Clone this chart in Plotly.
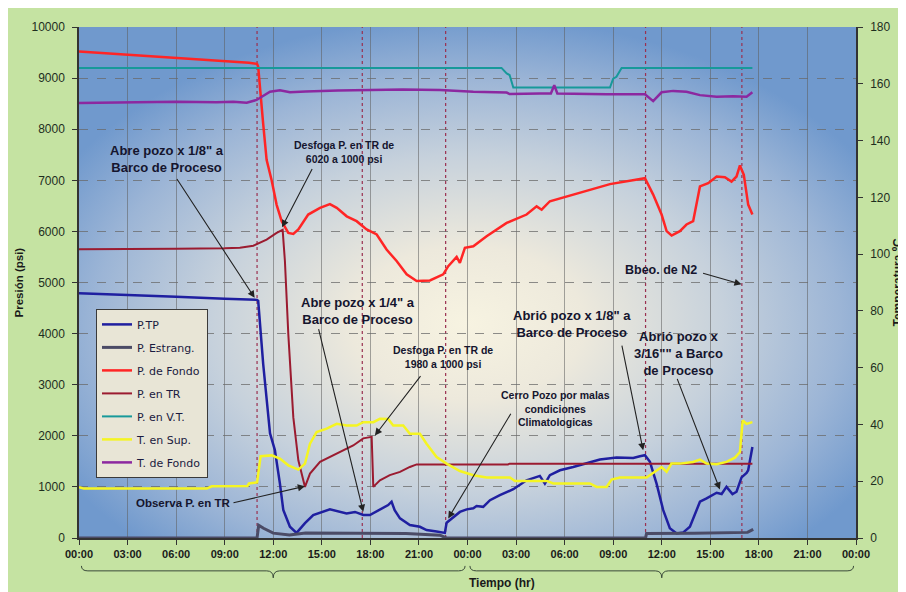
import base64
import plotly.graph_objects as go

# ---------------- data (hours from 00:00 of day 1) ----------------
tick_hours = list(range(0, 49, 3))
tick_labels = ["00:00", "03:00", "06:00", "09:00", "12:00", "15:00", "18:00", "21:00",
               "00:00", "03:00", "06:00", "09:00", "12:00", "15:00", "18:00", "21:00", "00:00"]

tp_h = [0, 3, 6, 9, 11.0, 11.07, 11.38, 11.8, 12.1, 12.41, 12.62, 13.03, 13.44, 13.96, 14.47,
        15.5, 15.91, 16.53, 17.05, 17.56, 17.97, 18.59, 19.1, 19.31, 19.5, 19.83, 20.44, 21.06,
        21.47, 22.09, 22.6, 22.71, 23.53, 23.95, 24.36, 24.56, 24.97, 25.39, 26.0, 26.83, 27.24,
        27.65, 28.47, 28.78, 29.09, 29.71, 30.53, 31.36, 32.18, 33.21, 34.24, 34.65, 34.96, 35.27,
        35.68, 36.09, 36.5, 36.92, 37.33, 37.74, 38.36, 38.77, 39.39, 39.7, 40.0, 40.37, 40.62,
        40.93, 41.24, 41.34, 41.6]
tp_v = [4790, 4760, 4720, 4680, 4660, 4640, 3400, 2050, 1720, 1070, 550, 220, 100, 290, 450,
        560, 530, 480, 510, 450, 450, 565, 645, 710, 545, 385, 255, 220,
        155, 125, 100, 300, 510, 560, 580, 625, 610, 740, 840, 955, 1035,
        1130, 1215, 1065, 1230, 1325, 1390, 1470, 1535, 1575, 1565, 1600, 1620, 1490,
        1065, 545, 190, 90, 110, 220, 710, 775, 885, 860, 1000, 860, 905,
        1185, 1275, 1325, 1780]

est_h = [0, 11.0, 11.1, 11.4, 12.0, 13.0, 14.0, 16.0, 18.0, 20.2, 22.3, 22.7, 35.0, 35.06,
         38.0, 40.0, 41.3, 41.65]
est_v = [0, 0, 250, 190, 95, 60, 100, 100, 100, 90, 55, 0, 0, 90,
         95, 100, 110, 170]

fondo_h = [0, 3, 6, 9, 10.5, 11.0, 11.07, 11.38, 11.59, 11.9, 12.21, 12.52, 12.93, 13.24, 13.55,
           14.16, 14.89, 15.5, 15.92, 16.54, 17.15, 17.77, 18.39, 19.0, 19.62, 20.24, 20.86,
           21.68, 22.5, 22.81, 23.33, 23.53, 23.84, 24.36, 25.18, 26.42, 27.65, 28.27, 28.58,
           29.09, 30.12, 31.36, 32.8, 34.96, 35.47, 35.99, 36.3, 36.61, 37.12, 37.53, 37.94,
           38.36, 38.87, 39.39, 39.9, 40.31, 40.62, 40.83, 41.07, 41.34, 41.6]
fondo_v = [9520, 9460, 9400, 9340, 9300, 9280, 9220, 8100, 7400, 7000, 6520, 6200, 5970, 5950, 6040,
           6330, 6460, 6535, 6460, 6295, 6200, 6040, 5940, 5645, 5420, 5160, 5030,
           5040, 5160, 5320, 5500, 5385, 5680, 5710, 5905, 6165, 6330, 6490, 6425,
           6590, 6685, 6795, 6925, 7040, 6720, 6330, 6005, 5920, 6005, 6135, 6200,
           6880, 6945, 7075, 7060, 6975, 7075, 7290, 7105, 6525, 6330]

tr_h = [0, 3, 6, 9, 9.94, 10.77, 11.59, 12.21, 12.58, 12.72, 12.93, 13.24, 13.55, 13.96, 14.27,
        14.89, 15.92, 16.94, 17.56, 18.08, 18.18, 18.59, 19.2, 19.83, 20.44, 20.86, 26.5, 26.6, 41.6]
tr_v = [5650, 5650, 5660, 5670, 5680, 5720, 5840, 5970, 6030, 5420, 3990, 2360, 1520, 1000, 1260,
        1490, 1650, 1810, 1950, 1980, 1000, 1130, 1230, 1295, 1390, 1440, 1440, 1455, 1455]

vt_h = [0, 26.1, 26.42, 26.6, 26.83, 32.8, 33.0, 33.2, 33.52, 41.6]
vt_v = [9200, 9200, 9090, 9060, 8815, 8815, 8990, 9025, 9200, 9200]

sup_h = [0, 0.3, 7.9, 8.2, 10.4, 10.5, 11.0, 11.22, 11.9, 12.41, 12.93, 13.55, 13.96, 14.27,
         14.68, 15.3, 15.92, 16.53, 17.15, 17.56, 18.18, 18.59, 19.1, 19.41, 20.03, 20.44, 21.06,
         21.47, 22.09, 22.71, 23.53, 24.36, 25.18, 26.62, 26.93, 28.9, 29.3, 31.56, 31.98, 32.59,
         32.9, 33.42, 35.06, 35.58, 35.99, 36.3, 36.6, 37.12, 37.94, 38.36, 38.77, 39.39, 40.0,
         40.52, 40.83, 41.0, 41.24, 41.6]
sup_v = [17.9, 17.4, 17.4, 18.2, 18.3, 19.2, 19.6, 28.8, 29.1, 28.0, 25.6, 24.1, 26.2, 33.2,
         37.3, 38.5, 40.2, 39.6, 39.6, 40.8, 40.8, 42.0, 41.9, 39.6, 39.6, 36.7, 36.7,
         33.2, 28.5, 26.2, 23.6, 22.1, 21.3, 21.3, 20.1, 20.1, 19.2, 19.2, 18.0, 18.0,
         20.6, 21.3, 21.3, 23.3, 25.0, 23.3, 26.2, 26.2, 26.8, 27.6, 26.2, 26.0, 26.8,
         28.3, 30.3, 41.4, 40.2, 40.8]

tf_h = [0, 3, 6, 8.5, 9.53, 10.36, 10.97, 11.8, 12.41, 13.03, 14, 16, 18, 20, 22.3, 24.36, 26.42,
        26.6, 28.47, 29.15, 29.36, 29.55, 32.6, 34.96, 35.47, 35.99, 36.71, 37.53, 38.36, 39.39,
        40.41, 41.24, 41.6]
tf_v = [153.2, 153.4, 153.7, 153.5, 153.7, 153.3, 154.3, 157.2, 157.7, 157.0, 157.3, 157.6, 157.8,
        158.0, 157.8, 157.2, 156.9, 156.4, 156.6, 156.6, 159.5, 156.6, 156.3, 156.3, 153.9, 157.0,
        157.5, 157.2, 156.0, 155.4, 155.6, 155.4, 157.0]

event_hours = [11.0, 17.5, 22.65, 35.0, 40.95]
day_starts = [0, 24]

# ---------------- figure ----------------
# the page body adds an 8 px margin, so the figure sits at (8, 8) in the window
OFF = 8
W, H = 906 - OFF, 592 - OFF
PL, PR, PT, PB = 79, 856, 25, 538          # plot area in window pixels
ML, MT = PL - OFF, PT - OFF
MR, MB = W - (PR - OFF), H - (PB - OFF)
PW, PH = PR - PL, PB - PT


def px_x(p):
    return (p - PL) / PW


def px_y(p):
    return (PB - p) / PH


fig = go.Figure()
series = [
    ("P.TP", tp_h, tp_v, "#1f1fa0", 2.5, "y"),
    ("P. Estrang.", est_h, est_v, "#4b4b66", 3, "y"),
    ("P. de Fondo", fondo_h, fondo_v, "#ff2525", 2.5, "y"),
    ("P. en TR", tr_h, tr_v, "#9b1b30", 2, "y"),
    ("P. en V.T.", vt_h, vt_v, "#17999a", 2, "y"),
    ("T. en Sup.", sup_h, sup_v, "#f5f522", 2.5, "y2"),
    ("T. de Fondo", tf_h, tf_v, "#8c28a0", 2.5, "y2"),
]
for i, (name, xs, ys, col, w, ax) in enumerate(series):
    fig.add_trace(go.Scatter(x=xs, y=ys, name=name, mode="lines", yaxis=ax,
                             line=dict(color=col, width=w), legendgroup="g%d" % i,
                             hoverinfo="skip"))

# background gradient of the plot area
svg = ("<svg xmlns='http://www.w3.org/2000/svg' width='777' height='513' viewBox='0 0 777 513' "
       "preserveAspectRatio='none'><defs><radialGradient id='g' cx='0.5' cy='0.58' r='0.6'>"
       "<stop offset='0' stop-color='#f7f3e1'/><stop offset='0.25' stop-color='#ede9dc'/>"
       "<stop offset='0.55' stop-color='#c6d1dc'/><stop offset='0.8' stop-color='#9cb5d6'/>"
       "<stop offset='1' stop-color='#7099cd'/></radialGradient></defs>"
       "<rect width='777' height='513' fill='url(#g)'/></svg>")
src = "data:image/svg+xml;base64," + base64.b64encode(svg.encode()).decode()

shapes = []
# event lines
for h in event_hours:
    shapes.append(dict(type="line", xref="x", yref="paper", x0=h, x1=h, y0=0, y1=1,
                       line=dict(color="#9a3050", width=1.2, dash="dot"), layer="below"))
# day brackets
ytop, ymid, ytip = px_y(566), px_y(571), px_y(578)
for d in day_starts:
    h0, h1, hc = d + 0.15, d + 24 - 0.15, d + 12
    path = (f"M {h0},{ytop} Q {h0},{ymid} {h0+0.4},{ymid} L {hc-0.4},{ymid} "
            f"Q {hc},{ymid} {hc},{ytip} Q {hc},{ymid} {hc+0.4},{ymid} "
            f"L {h1-0.4},{ymid} Q {h1},{ymid} {h1},{ytop}")
    shapes.append(dict(type="path", xref="x", yref="paper", path=path,
                       line=dict(color="#3a4a3a", width=1)))

TXT = "#15152e"
big = dict(family="Liberation Sans", size=13, color=TXT, weight="bold")
small = dict(family="Liberation Sans", size=10.5, color=TXT, weight="bold")
mid = dict(family="Liberation Sans", size=11.5, color=TXT, weight="bold")

labels = [
    ("Abre pozo x 1/8\" a<br>Barco de Proceso", 5.44, 7426, big),
    ("Desfoga P. en TR de<br>6020 a 1000 psi", 16.37, 7562, small),
    ("Abre pozo x 1/4\" a<br>Barco de Proceso", 17.23, 4444, big),
    ("Desfoga P. en TR de<br>1980 a 1000 psi", 22.49, 3547, small),
    ("Observa P. en TR", 6.43, 676, mid),
    ("Cerro Pozo por malas<br>condiciones<br>Climatologicas", 29.45, 2527, small),
    ("Abrió pozo x 1/8\" a<br>Barco de Proceso", 30.45, 4191, big),
    ("Abrió pozo x<br>3/16\"\" a Barco<br>de Proceso", 37.03, 3612, big),
    ("Bbeo. de N2", 35.95, 5243, dict(family="Liberation Sans", size=12.5, color=TXT, weight="bold")),
]
arrows = [
    (5.99, 7055, 10.85, 4700),
    (14.45, 7250, 12.54, 6081),
    (14.78, 4118, 17.56, 513),
    (21.17, 3196, 18.28, 2007),
    (9.45, 682, 13.96, 1013),
    (26.73, 2462, 22.81, 384),
    (33.52, 3795, 34.85, 1715),
    (36.92, 3144, 39.59, 949),
    (38.46, 5190, 40.93, 4964),
]

annotations = []
for text, x, y, f in labels:
    annotations.append(dict(text=text, x=x, y=y, xref="x", yref="y", showarrow=False,
                            font=f, align="center", xanchor="center", yanchor="middle"))
for ax_, ay_, x, y in arrows:
    annotations.append(dict(text="", x=x, y=y, xref="x", yref="y", ax=ax_, ay=ay_,
                            axref="x", ayref="y", showarrow=True, arrowhead=2, arrowsize=1.3,
                            arrowwidth=1.1, arrowcolor="#222222"))
# axis titles
annotations.append(dict(text="Presión (psi)", xref="paper", yref="paper", x=px_x(18), y=0.5,
                        textangle=-90, showarrow=False, xanchor="center", yanchor="middle",
                        font=dict(family="Liberation Sans", size=11.5, color="#1a1a1a", weight="bold")))
annotations.append(dict(text="Temperatura ºC", xref="paper", yref="paper", x=px_x(897), y=0.5,
                        textangle=-90, showarrow=False, xanchor="center", yanchor="middle",
                        font=dict(family="Liberation Sans", size=12, color="#1a1a1a", weight="bold")))
annotations.append(dict(text="Tiempo (hr)", xref="paper", yref="paper", x=px_x(467), y=px_y(583),
                        showarrow=False, xanchor="left", yanchor="middle",
                        font=dict(family="Liberation Sans", size=12, color="#1a1a1a", weight="bold")))

fig.update_layout(
    width=W, height=H,
    margin=dict(l=ML, r=MR, t=MT, b=MB, pad=0),
    paper_bgcolor="#c5e3a2",
    plot_bgcolor="rgba(0,0,0,0)",
    showlegend=True,
    legend=dict(x=px_x(96), y=px_y(308), xanchor="left", yanchor="top",
                bgcolor="#e8e5d6", bordercolor="#3a3a3a", borderwidth=1,
                font=dict(family="DejaVu Sans", size=11, color="#1a1a40"),
                tracegroupgap=4, traceorder="grouped"),
    images=[dict(source=src, xref="paper", yref="paper", x=0, y=1, sizex=1, sizey=1,
                 sizing="stretch", xanchor="left", yanchor="top", layer="below")],
    shapes=shapes,
    annotations=annotations,
    xaxis=dict(range=[0, 48], tickvals=tick_hours, ticktext=tick_labels,
               showgrid=True, gridcolor="rgba(95,95,95,0.55)", gridwidth=1,
               showline=True, linecolor="#333333", linewidth=1.5,
               ticks="outside", ticklen=5, tickcolor="#333333", zeroline=False,
               tickfont=dict(family="Liberation Sans", size=11, color="#1a1a1a", weight="bold")),
    yaxis=dict(range=[0, 10000], dtick=1000, tickformat="d", showgrid=True, griddash="dash",
               gridcolor="rgba(105,105,105,0.75)", gridwidth=1,
               showline=True, linecolor="#333333", linewidth=1.5,
               ticks="outside", ticklen=5, tickcolor="#333333", zeroline=False,
               ticklabelstandoff=5,
               tickfont=dict(family="Liberation Sans", size=12, color="#1e2e1e")),
    yaxis2=dict(range=[0, 180], dtick=20, overlaying="y", side="right", showgrid=False,
                showline=True, linecolor="#333333", linewidth=1.5,
                ticks="outside", ticklen=5, tickcolor="#333333", zeroline=False,
                ticklabelstandoff=5,
                tickfont=dict(family="Liberation Sans", size=12, color="#1e2e1e")),
)

fig.write_html("out.html")
